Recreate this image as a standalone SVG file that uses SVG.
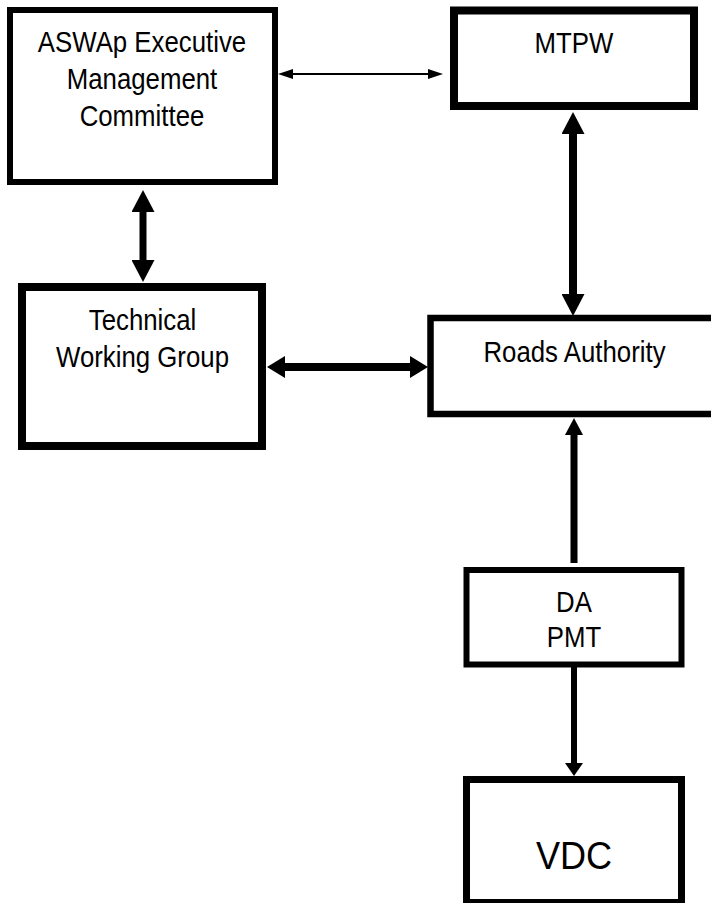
<svg xmlns="http://www.w3.org/2000/svg" width="711" height="903" viewBox="0 0 711 903">
<style>
.box{fill:#fff;stroke:#000}
.lbl{font-family:"Liberation Sans",Arial,sans-serif;font-size:30px;fill:#000;text-anchor:middle}
.big{font-size:38px}
.con{stroke:#000;fill:none;stroke-linecap:butt}
</style>
<defs>
<marker id="hV" viewBox="0 0 22 23" refX="1" refY="11.5" markerWidth="22" markerHeight="23" markerUnits="userSpaceOnUse" orient="auto-start-reverse"><path d="M0,0 L22,11.5 L0,23 z" fill="#000"/></marker>
<marker id="hH" viewBox="0 0 18 22" refX="1" refY="11" markerWidth="18" markerHeight="22" markerUnits="userSpaceOnUse" orient="auto-start-reverse"><path d="M0,0 L18,11 L0,22 z" fill="#000"/></marker>
<marker id="hM" viewBox="0 0 17 18" refX="1" refY="9" markerWidth="17" markerHeight="18" markerUnits="userSpaceOnUse" orient="auto-start-reverse"><path d="M0,0 L17,9 L0,18 z" fill="#000"/></marker>
<marker id="hD" viewBox="0 0 13 18" refX="1" refY="9" markerWidth="13" markerHeight="18" markerUnits="userSpaceOnUse" orient="auto-start-reverse"><path d="M0,0 L13,9 L0,18 z" fill="#000"/></marker>
<marker id="hS" viewBox="0 0 15 10" refX="1" refY="5" markerWidth="15" markerHeight="10" markerUnits="userSpaceOnUse" orient="auto-start-reverse"><path d="M0,0 L15,5 L0,10 z" fill="#000"/></marker>
</defs>
<g id="connectors">
<line class="con" x1="292" y1="74" x2="429" y2="74" stroke-width="2" marker-start="url(#hS)" marker-end="url(#hS)"/>
<line class="con" x1="143" y1="211" x2="143" y2="261" stroke-width="7" marker-start="url(#hV)" marker-end="url(#hV)"/>
<line class="con" x1="573" y1="133" x2="573" y2="295" stroke-width="8" marker-start="url(#hV)" marker-end="url(#hV)"/>
<line class="con" x1="284" y1="367" x2="411" y2="367" stroke-width="8" marker-start="url(#hH)" marker-end="url(#hH)"/>
<line class="con" x1="574" y1="563" x2="574" y2="434" stroke-width="7" marker-end="url(#hM)"/>
<line class="con" x1="574" y1="667" x2="574" y2="764" stroke-width="6" marker-end="url(#hD)"/>
</g>
<g id="aswap">
<rect class="box" x="10" y="10" width="265" height="172" stroke-width="6"/>
<g transform="translate(142,0) scale(0.86,1)">
<text class="lbl" x="0" y="52">ASWAp Executive</text>
<text class="lbl" x="0" y="89">Management</text>
<text class="lbl" x="0" y="126">Committee</text>
</g>
</g>
<g id="mtpw">
<rect class="box" x="454" y="10.5" width="240" height="95.5" stroke-width="8"/>
<g transform="translate(574,0) scale(0.86,1)"><text class="lbl" x="0" y="53">MTPW</text></g>
</g>
<g id="twg">
<rect class="box" x="22" y="287" width="240" height="159" stroke-width="8"/>
<g transform="translate(142.5,0) scale(0.86,1)">
<text class="lbl" x="0" y="330">Technical</text>
<text class="lbl" x="0" y="367">Working Group</text>
</g>
</g>
<g id="roads">
<rect class="box" x="430.5" y="318" width="300" height="96" stroke-width="6.5"/>
<g transform="translate(574.5,0) scale(0.86,1)"><text class="lbl" x="0" y="362">Roads Authority</text></g>
</g>
<g id="da">
<rect class="box" x="466.5" y="570" width="215" height="94.5" stroke-width="6"/>
<g transform="translate(574,0) scale(0.86,1)">
<text class="lbl" x="0" y="612">DA</text>
<text class="lbl" x="0" y="647">PMT</text>
</g>
</g>
<g id="vdc">
<rect class="box" x="466.5" y="779.5" width="215" height="123" stroke-width="7"/>
<g transform="translate(574,0) scale(0.95,1)"><text class="lbl big" x="0" y="869">VDC</text></g>
</g>
</svg>
